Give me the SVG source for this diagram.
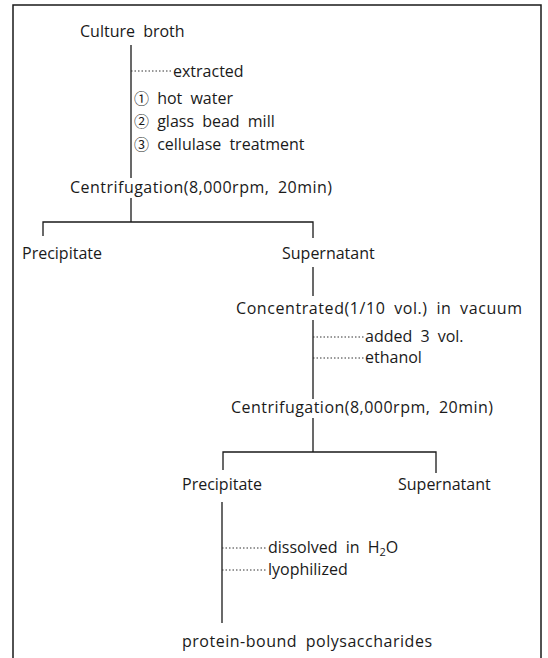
<svg xmlns="http://www.w3.org/2000/svg" width="548" height="658" viewBox="0 0 548 658">
<style>
text{font-family:"Open Sans","Noto Sans","DejaVu Sans",sans-serif;font-size:16px;fill:#1a1a1a;word-spacing:4px}
.c{font-family:"Noto Sans CJK KR","DejaVu Sans",sans-serif;font-size:15px}
.ln{stroke:#1a1a1a;stroke-width:1.3;fill:none}
.dt{stroke:#333;stroke-width:1;stroke-dasharray:1.5 2;fill:none}
.bd{stroke:#1a1a1a;stroke-width:1.5;fill:none}
</style>
<rect width="548" height="658" fill="#fff"/>
<g id="frame"><path class="bd" d="M13,658 V5 H541 V658"/></g>
<g id="connectors">
<path class="ln" d="M131,45 V178 M131,198 V222 M43,236 V222 H313 V238"/>
<path class="dt" d="M131,71 H172"/>
<path class="ln" d="M313,267 V296 M313,320 V399 M313,418 V452 M223,470 V452 H436 V473"/>
<path class="dt" d="M313,337 H364 M313,358 H364"/>
<path class="ln" d="M222,502 V623"/>
<path class="dt" d="M222,548 H266 M222,570 H266"/>
</g>
<g id="n-culture"><text x="80" y="37">Culture broth</text></g>
<g id="n-extracted"><text x="173" y="77">extracted</text></g>
<g id="n-steps">
<text x="134" y="104"><tspan class="c">①</tspan> hot water</text>
<text x="134" y="127"><tspan class="c">②</tspan> glass bead mill</text>
<text x="134" y="150"><tspan class="c">③</tspan> cellulase treatment</text>
</g>
<g id="n-centri1"><text x="70" y="193" textLength="262">Centrifugation(8,000rpm, 20min)</text></g>
<g id="n-prec1"><text x="22" y="259">Precipitate</text></g>
<g id="n-super1"><text x="282" y="259">Supernatant</text></g>
<g id="n-conc"><text x="236" y="314" textLength="286">Concentrated(1/10 vol.) in vacuum</text></g>
<g id="n-added"><text x="365" y="342">added 3 vol.</text></g>
<g id="n-ethanol"><text x="365" y="363">ethanol</text></g>
<g id="n-centri2"><text x="231" y="413" textLength="262">Centrifugation(8,000rpm, 20min)</text></g>
<g id="n-prec2"><text x="182" y="490">Precipitate</text></g>
<g id="n-super2"><text x="398" y="490">Supernatant</text></g>
<g id="n-dissolved"><text x="268" y="553">dissolved in H<tspan font-size="11" dy="3">2</tspan><tspan dy="-3">O</tspan></text></g>
<g id="n-lyo"><text x="268" y="575">lyophilized</text></g>
<g id="n-product"><text x="182" y="647" textLength="250">protein-bound polysaccharides</text></g>
</svg>
